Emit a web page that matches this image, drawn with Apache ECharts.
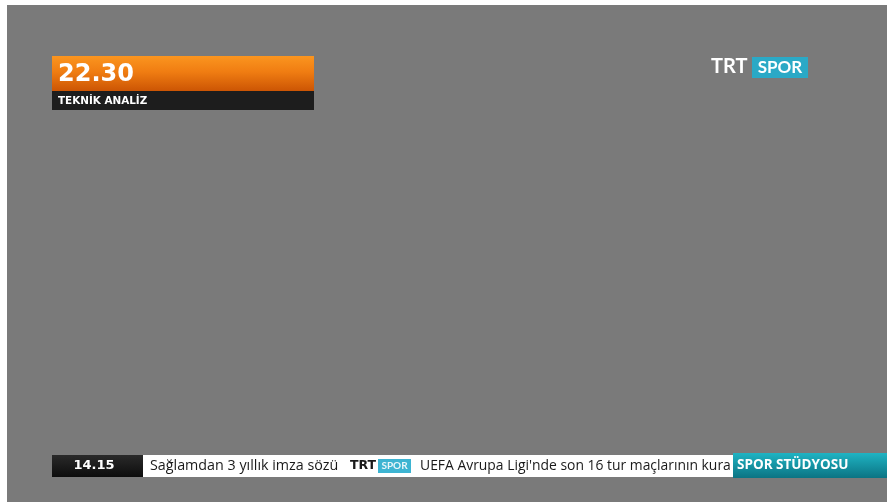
<!DOCTYPE html>
<html>
<head>
<meta charset="utf-8">
<script src="https://cdn.jsdelivr.net/npm/echarts@6/dist/echarts.min.js"></script>
<style>
html,body{margin:0;padding:0;background:#ffffff;}
#chart{width:887px;height:502px;}
</style>
</head>
<body>
<div id="chart"></div>
<script>
// Texts shown on the screen
const timeLabel = ["22.30"];
const programLabel = ["TEKNİK ANALİZ"];
const logoParts = ["TRT", "SPOR"];
const tickerTime = ["14.15"];
const tickerItems = ["Sağlamdan 3 yıllık imza sözü", "UEFA Avrupa Ligi'nde son 16 tur maçlarının kura"];
const tickerTag = ["SPOR STÜDYOSU"];

const chart = echarts.init(document.getElementById('chart'), null, {renderer: 'canvas'});
const F = 'Lato, "Open Sans", "Noto Sans", sans-serif';
const O = '"Open Sans", "Noto Sans", sans-serif';
const D = '"DejaVu Sans", sans-serif';

const option = {
  backgroundColor: '#ffffff',
  animation: false,
  graphic: [
    // gray screen
    {type: 'rect', shape: {x: 7, y: 5, width: 880, height: 497}, style: {fill: '#7a7a7a'}},
    // orange time box
    {type: 'rect', shape: {x: 52, y: 56, width: 262, height: 35},
      style: {fill: new echarts.graphic.LinearGradient(0, 0, 0, 1, [
        {offset: 0, color: '#fb951f'}, {offset: 0.45, color: '#f07d12'}, {offset: 1, color: '#cc5504'}])}},
    {type: 'text', x: 58, y: 74.5, style: {text: timeLabel[0], fill: '#ffffff', font: 'bold 24px ' + D, textVerticalAlign: 'middle'}},
    // dark program bar
    {type: 'rect', shape: {x: 52, y: 91, width: 262, height: 19}, style: {fill: '#1d1d1d'}},
    {type: 'text', x: 58, y: 101, style: {text: programLabel[0], fill: '#ffffff', font: 'bold 10.4px ' + D, textVerticalAlign: 'middle'}},
    // TRT SPOR logo
    {type: 'text', x: 711, y: 67, style: {text: logoParts[0], fill: '#ffffff', font: 'bold 20px ' + F, textVerticalAlign: 'middle'}},
    {type: 'rect', shape: {x: 752, y: 57, width: 56, height: 21}, style: {fill: '#2aa9c6'}},
    {type: 'text', x: 780, y: 67.5, style: {text: logoParts[1], fill: '#ffffff', font: 'bold 17px ' + F, textAlign: 'center', textVerticalAlign: 'middle'}},
    // ticker
    {type: 'rect', shape: {x: 52, y: 455, width: 91, height: 22},
      style: {fill: new echarts.graphic.LinearGradient(0, 0, 0, 1, [
        {offset: 0, color: '#2a2a2a'}, {offset: 1, color: '#0d0d0d'}])}},
    {type: 'text', x: 94, y: 466, style: {text: tickerTime[0], fill: '#ffffff', font: 'bold 13px ' + D, textAlign: 'center', textVerticalAlign: 'middle'}},
    {type: 'rect', shape: {x: 143, y: 455, width: 590, height: 22}, style: {fill: '#ffffff'}},
    {type: 'text', x: 150, y: 466, style: {text: tickerItems[0], fill: '#1a1a1a', font: '14.3px ' + O, textVerticalAlign: 'middle'}},
    {type: 'text', x: 350, y: 466, style: {text: logoParts[0], fill: '#1a1a1a', font: 'bold 12.5px ' + D, textVerticalAlign: 'middle'}},
    {type: 'rect', shape: {x: 378, y: 459, width: 33, height: 14}, style: {fill: '#3db4d2'}},
    {type: 'text', x: 394.5, y: 466, style: {text: logoParts[1], fill: '#e8f6fa', font: 'bold 10px ' + F, textAlign: 'center', textVerticalAlign: 'middle'}},
    {type: 'text', x: 420, y: 466, style: {text: tickerItems[1], fill: '#1a1a1a', font: '13.9px ' + O, textVerticalAlign: 'middle'}},
    // teal tag
    {type: 'rect', shape: {x: 733, y: 453, width: 154, height: 25},
      style: {fill: new echarts.graphic.LinearGradient(0, 0, 0, 1, [
        {offset: 0, color: '#1fb3c3'}, {offset: 1, color: '#0b7483'}])}},
    {type: 'text', x: 737, y: 465, style: {text: tickerTag[0], fill: '#ffffff', font: 'bold 13.5px ' + O, textVerticalAlign: 'middle'}}
  ]
};
chart.setOption(option);
</script>
</body>
</html>
